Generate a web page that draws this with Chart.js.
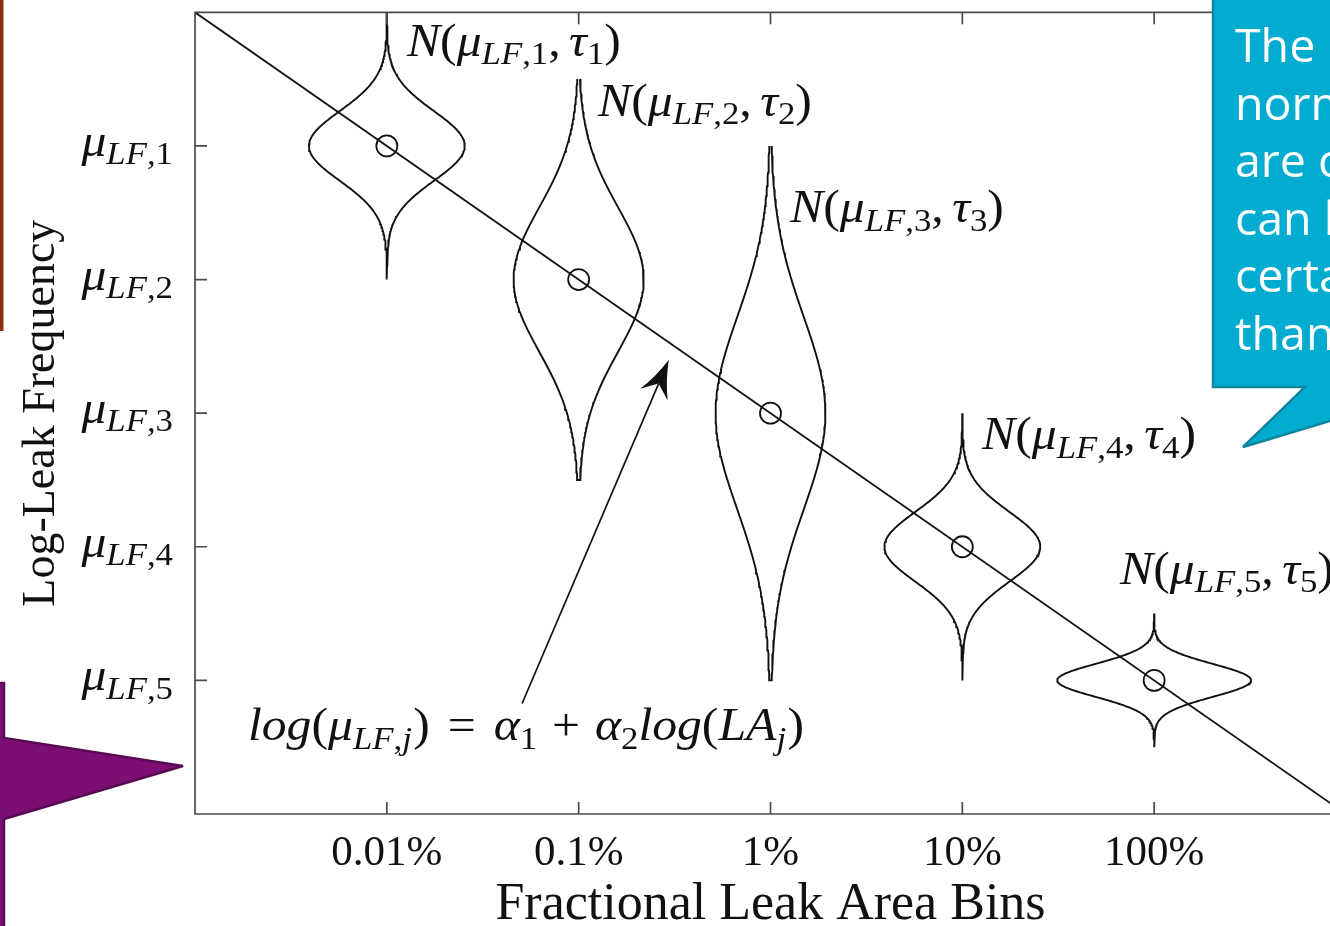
<!DOCTYPE html>
<html>
<head>
<meta charset="utf-8">
<title>Log-Leak Frequency by Fractional Leak Area Bin</title>
<script src="https://cdn.jsdelivr.net/npm/chart.js@4.4.1/dist/chart.umd.min.js"></script>
<style>
  html, body { margin: 0; padding: 0; background: #ffffff; overflow: hidden; width: 1330px; height: 926px; }
  #wrap { position: relative; width: 1330px; height: 926px; overflow: hidden; }
  #chart { position: absolute; left: 0; top: 0; }
  #deco { position: absolute; left: 0; top: 0; }
  #deco text { font-family: "Open Sans", "Noto Sans", sans-serif; font-size: 46.5px; fill: #ffffff; }
</style>
</head>
<body>
<div id="wrap">
  <canvas id="chart" width="1360" height="926"></canvas>
  <svg id="deco" width="1330" height="926" xmlns="http://www.w3.org/2000/svg">
    <!-- edge of a neighbouring box -->
    <rect x="0" y="0" width="3.5" height="331" fill="#8d2e15"/>
    <!-- purple pointer callout -->
    <polygon points="-10,683 4,683 4,738 183,766 4,819 4,940 -10,940" fill="#7c0e73" stroke="#580a52" stroke-width="2.5" stroke-linejoin="miter"/>
    <!-- teal speech callout -->
    <polygon points="1213,-10 1213,387 1305,387 1243,447 1444,387 1444,-10" fill="#01acd0" stroke="#11859f" stroke-width="2.5" stroke-linejoin="miter"/>
    <text x="1235" y="62">The</text>
    <text x="1235" y="119.5">norm</text>
    <text x="1235" y="177">are c</text>
    <text x="1235" y="234.5">can b</text>
    <text x="1235" y="292">certa</text>
    <text x="1235" y="349.5">than</text>
  </svg>
</div>
<script>
// ---- data ----
const binLabels    = ['0.01%', '0.1%', '1%', '10%', '100%'];
const binPositions = [1, 2, 3, 4, 5];
const meanLevels   = [5, 4, 3, 2, 1];          // mu_LF,j on the log-frequency axis
const meanIndex    = ['1', '2', '3', '4', '5'];
const spreadTau    = [0.26, 0.54, 0.72, 0.26, 0.123];     // tau_j, in axis units
const peakHalfWidth = [0.406, 0.339, 0.286, 0.406, 0.505]; // density peak, in bin units
const tailReach    = [1.0, 1.5, 2.0, 1.0, 0.5];           // extent of each drawn density
const fitX = [0, 6];
const fitY = [6, 0];
const axisMin = 0, axisMax = 6;

// ---- annotation layout (data units) ----
const labelOffsetX = [0.105, 0.101, 0.102, 0.103, -0.178];
const labelBaseY   = [5.672, 5.225, 4.427, 2.728, 1.722];
const equationAnchor = { x: 0.276, y: 0.552 };
const arrowFrom = { x: 1.705, y: 0.827 };
const arrowTo   = { x: 2.47, y: 3.40 };

const INK = '#111111';
const FRAME = '#4a4a4a';
const SERIF = '"Liberation Serif", "Times New Roman", serif';
const MATH_SIZE = 46;
const MATH_STRETCH = 1.08;   // wider set for the math lettering

function violinOutline(i) {
  const cx = binPositions[i], cy = meanLevels[i];
  const s = spreadTau[i], w = peakHalfWidth[i], r = tailReach[i];
  const n = 160, pts = [];
  for (let k = 0; k <= n; k++) {
    const t = r - 2 * r * k / n;
    pts.push({ x: cx + w * Math.exp(-t * t / (2 * s * s)), y: cy + t });
  }
  for (let k = 0; k <= n; k++) {
    const t = -r + 2 * r * k / n;
    pts.push({ x: cx - w * Math.exp(-t * t / (2 * s * s)), y: cy + t });
  }
  return pts;
}

const datasets = [];
datasets.push({
  label: 'fit',
  data: fitX.map((x, i) => ({ x, y: fitY[i] })),
  showLine: true, borderColor: INK, borderWidth: 1.8, pointRadius: 0, fill: false
});
binPositions.forEach((b, i) => {
  datasets.push({
    label: 'density ' + (i + 1),
    data: violinOutline(i),
    showLine: true, borderColor: INK, borderWidth: 1.9, pointRadius: 0, fill: false, tension: 0
  });
});
datasets.push({
  label: 'means',
  data: binPositions.map((b, i) => ({ x: b, y: meanLevels[i] })),
  showLine: false, pointStyle: 'circle', pointRadius: 10.5, pointBorderWidth: 1.8,
  pointBorderColor: INK, pointBackgroundColor: 'rgba(0,0,0,0)'
});

// math-style text: runs of italic / upright / subscript pieces
function runFont(r, size) {
  const fs = r.sub ? size * 0.7 : size;
  return (r.it ? 'italic ' : '') + fs + 'px ' + SERIF;
}
function mathWidth(ctx, runs, size) {
  let w = 0;
  for (const r of runs) {
    ctx.font = runFont(r, size);
    w += (r.gap || 0) * size + ctx.measureText(r.t).width + (r.after || 0) * size;
  }
  return w * MATH_STRETCH;
}
function drawMath(ctx, runs, x, y, size) {
  ctx.save();
  ctx.translate(x, y);
  ctx.scale(MATH_STRETCH, 1);
  ctx.textBaseline = 'alphabetic';
  ctx.textAlign = 'left';
  let cx = 0;
  for (const r of runs) {
    ctx.font = runFont(r, size);
    cx += (r.gap || 0) * size;
    ctx.fillText(r.t, cx, r.sub ? size * 0.18 : 0);
    cx += ctx.measureText(r.t).width + (r.after || 0) * size;
  }
  ctx.restore();
}
function muRuns(j) {
  return [{ t: 'μ', it: true }, { t: 'LF', it: true, sub: true }, { t: ',' + j, sub: true }];
}
function nRuns(j) {
  return [{ t: 'N', it: true }, { t: '(' }].concat(muRuns(j), [
    { t: ',' }, { t: 'τ', it: true, gap: 0.17 }, { t: j, sub: true }, { t: ')' }
  ]);
}
const equationRuns = [
  { t: 'log', it: true }, { t: '(' }, { t: 'μ', it: true }, { t: 'LF', it: true, sub: true },
  { t: ',', sub: true }, { t: 'j', it: true, sub: true, after: 0.03 }, { t: ')' },
  { t: '=', gap: 0.36, after: 0.36 }, { t: 'α', it: true }, { t: '1', sub: true },
  { t: '+', gap: 0.3, after: 0.3 }, { t: 'α', it: true }, { t: '2', sub: true },
  { t: 'log', it: true }, { t: '(' }, { t: 'LA', it: true }, { t: 'j', it: true, sub: true, after: 0.03 }, { t: ')' }
];

const decorPlugin = {
  id: 'decor',
  afterDatasetsDraw(chart) {
    const ctx = chart.ctx, xs = chart.scales.x, ys = chart.scales.y;
    const a = chart.chartArea;
    ctx.save();
    // frame
    ctx.strokeStyle = FRAME; ctx.lineWidth = 1.7;
    ctx.beginPath();
    ctx.moveTo(a.right, a.top); ctx.lineTo(a.left, a.top); ctx.lineTo(a.left, a.bottom); ctx.lineTo(a.right, a.bottom);
    ctx.stroke();
    // inward tick marks
    const tl = 12;
    ctx.beginPath();
    binPositions.forEach(v => {
      const px = xs.getPixelForValue(v);
      ctx.moveTo(px, a.bottom); ctx.lineTo(px, a.bottom - tl);
      ctx.moveTo(px, a.top); ctx.lineTo(px, a.top + tl);
    });
    meanLevels.forEach(v => {
      const py = ys.getPixelForValue(v);
      ctx.moveTo(a.left, py); ctx.lineTo(a.left + tl, py);
    });
    ctx.stroke();

    ctx.fillStyle = INK;
    // y tick labels mu_LF,j
    meanLevels.forEach((v, i) => {
      const runs = muRuns(meanIndex[i]);
      const w = mathWidth(ctx, runs, MATH_SIZE);
      drawMath(ctx, runs, a.left - 22 - w, ys.getPixelForValue(v) + 10, MATH_SIZE);
    });
    // density labels
    binPositions.forEach((b, i) => {
      drawMath(ctx, nRuns(meanIndex[i]), xs.getPixelForValue(b + labelOffsetX[i]),
        ys.getPixelForValue(labelBaseY[i]), MATH_SIZE);
    });
    // regression equation
    drawMath(ctx, equationRuns, xs.getPixelForValue(equationAnchor.x),
      ys.getPixelForValue(equationAnchor.y), MATH_SIZE);

    // arrow from equation to the fitted line
    const x0 = xs.getPixelForValue(arrowFrom.x), y0 = ys.getPixelForValue(arrowFrom.y);
    const x1 = xs.getPixelForValue(arrowTo.x), y1 = ys.getPixelForValue(arrowTo.y);
    const dx = x1 - x0, dy = y1 - y0, len = Math.hypot(dx, dy);
    const ux = dx / len, uy = dy / len, nx = -uy, ny = ux;
    const hl = 38, hw = 15, notch = 26;
    ctx.strokeStyle = INK; ctx.lineWidth = 1.7;
    ctx.beginPath();
    ctx.moveTo(x0, y0); ctx.lineTo(x1 - ux * notch, y1 - uy * notch);
    ctx.stroke();
    ctx.beginPath();
    ctx.moveTo(x1, y1);
    ctx.quadraticCurveTo(x1 - ux * hl * 0.55 + nx * hw * 0.35, y1 - uy * hl * 0.55 + ny * hw * 0.35,
      x1 - ux * hl + nx * hw, y1 - uy * hl + ny * hw);
    ctx.lineTo(x1 - ux * notch, y1 - uy * notch);
    ctx.lineTo(x1 - ux * hl - nx * hw, y1 - uy * hl - ny * hw);
    ctx.quadraticCurveTo(x1 - ux * hl * 0.55 - nx * hw * 0.35, y1 - uy * hl * 0.55 - ny * hw * 0.35, x1, y1);
    ctx.closePath();
    ctx.fill();
    ctx.restore();
  }
};

new Chart(document.getElementById('chart'), {
  type: 'scatter',
  data: { datasets },
  options: {
    responsive: false,
    devicePixelRatio: 1,
    animation: false,
    events: [],
    layout: { padding: { left: 0, top: 9, right: 14, bottom: 0 } },
    plugins: { legend: { display: false }, tooltip: { enabled: false } },
    scales: {
      x: {
        type: 'linear', min: axisMin, max: axisMax,
        grid: { display: false, drawTicks: false },
        border: { display: false },
        afterBuildTicks(scale) { scale.ticks = binPositions.map(v => ({ value: v })); },
        afterFit(scale) { scale.height = 112; },
        ticks: {
          autoSkip: false, maxRotation: 0, padding: 14, color: INK,
          font: { family: SERIF, size: 43, lineHeight: 1.2 },
          callback: (v) => { const i = binPositions.indexOf(v); return i >= 0 ? binLabels[i] : ''; }
        },
        title: {
          display: true, text: 'Fractional Leak Area Bins', color: INK,
          font: { family: SERIF, size: 52, lineHeight: 0.8 }, padding: { top: 0, bottom: 0 }
        }
      },
      y: {
        type: 'linear', min: axisMin, max: axisMax,
        grid: { display: false, drawTicks: false },
        border: { display: false },
        ticks: { display: false },
        afterFit(scale) { scale.width = 195; },
        title: {
          display: true, text: 'Log-Leak Frequency', color: INK,
          font: { family: SERIF, size: 46, lineHeight: 1 }, padding: { top: 19, bottom: 0 }
        }
      }
    }
  },
  plugins: [decorPlugin]
});
</script>
</body>
</html>
